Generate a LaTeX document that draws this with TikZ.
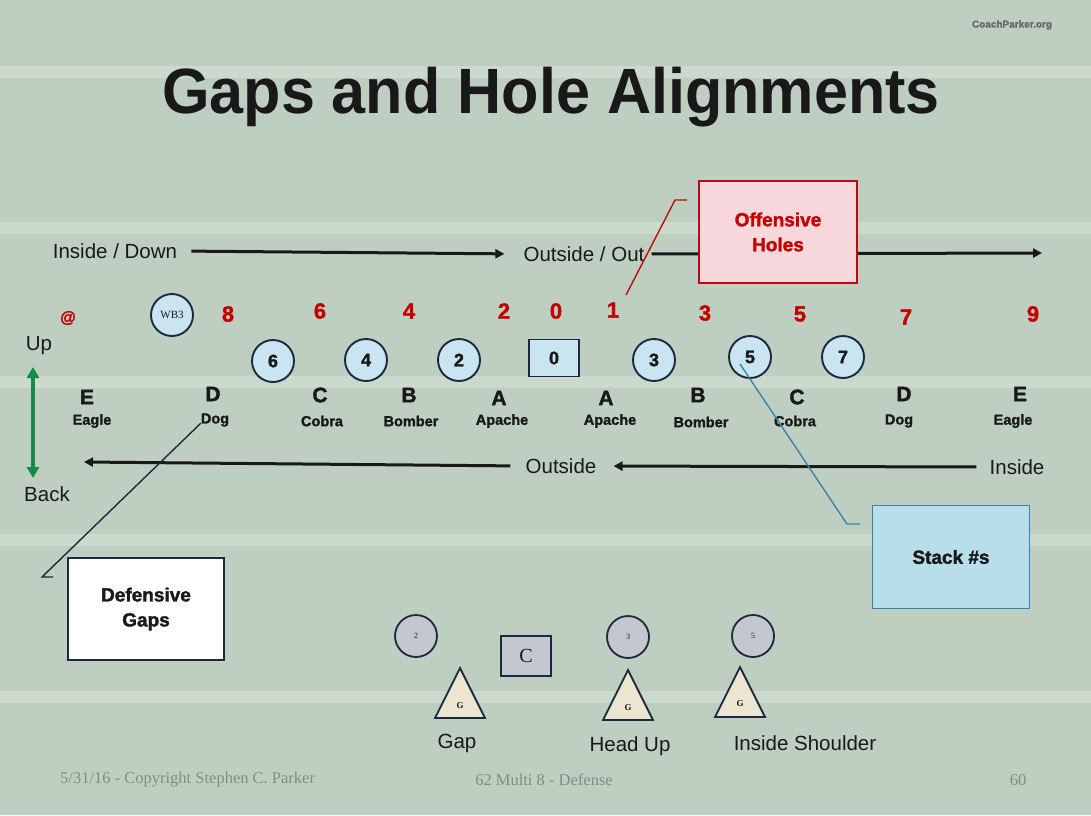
\documentclass[tikz,border=0pt]{standalone}
\usepackage{fontspec}
\setmainfont{Liberation Sans}
\newfontfamily\tnr{Liberation Serif}
\newfontfamily\heavy[FakeBold=1.6]{Liberation Sans Bold}
\usetikzlibrary{arrows.meta,shapes.geometric}
\definecolor{bgc}{RGB}{190,207,193}
\definecolor{bandc}{RGB}{204,218,206}
\definecolor{redt}{RGB}{196,0,0}
\definecolor{circf}{RGB}{200,229,241}
\definecolor{navy}{RGB}{28,40,62}
\definecolor{pinkf}{RGB}{248,216,220}
\definecolor{boxred}{RGB}{190,10,10}
\definecolor{stackf}{RGB}{183,222,233}
\definecolor{stackb}{RGB}{58,132,170}
\definecolor{grayf}{RGB}{196,198,208}
\definecolor{beige}{RGB}{236,230,208}
\definecolor{grn}{RGB}{20,140,72}
\definecolor{foot}{RGB}{128,142,130}
\definecolor{ink}{RGB}{25,25,25}
\tikzset{
  x=1pt,y=-1pt,
  arr/.style={draw=ink,line width=3pt,-{Triangle[length=9pt,width=9pt]}},
  reg/.style={font=\fontsize{20.5}{22}\selectfont,text=ink,inner sep=1pt},
  rednum/.style={font=\heavy\fontsize{22}{24}\selectfont,text=redt,inner sep=0pt},
  letter/.style={font=\heavy\fontsize{21}{23}\selectfont,text=ink,inner sep=0pt},
  gname/.style={font=\heavy\fontsize{14.5}{16}\selectfont,text=ink,inner sep=0pt},
  player/.style={circle,draw=navy,line width=1.9pt,fill=circf,minimum size=42pt,inner sep=0pt,font=\heavy\fontsize{18}{20}\selectfont,text=ink},
  gplayer/.style={circle,draw=navy,line width=1.8pt,fill=grayf,minimum size=42pt,inner sep=0pt,font=\tnr\fontsize{8}{9}\selectfont,text=ink},
  trishape/.style={draw=navy,line width=1.8pt,fill=beige,line join=miter},
  label/.style={align=center,font=\heavy\fontsize{19}{25}\selectfont,inner sep=0pt},
  footer/.style={font=\tnr\fontsize{16.5}{18}\selectfont,text=foot,inner sep=0pt},
  gtxt/.style={font=\tnr\fontsize{9}{10}\selectfont\bfseries,inner sep=0pt,text=ink}
}
\begin{document}
\begin{tikzpicture}
\useasboundingbox (0,0) rectangle (1091,815);
\fill[bgc] (0,0) rectangle (1091,815);
\foreach \yy in {72,228,382,540,697}{
  \fill[bandc] (0,\yy-6) rectangle (1091,\yy+6);
}
% logo and title
\node[font=\heavy\fontsize{10}{12}\selectfont,text=black!58,inner sep=0pt] (logo) at (1012,25) {CoachParker.org};
\node[font=\fontsize{64}{66}\selectfont\bfseries,text=ink,inner sep=0pt,xscale=0.955] (title) at (551,97) {Gaps and Hole Alignments};

% top direction line
\node[reg] (insdown) at (115,251) {Inside / Down};
\node[reg] (outout) at (584,254) {Outside / Out};
\coordinate (topend) at (1042,253);
\draw[arr,shorten <=13pt,shorten >=18pt] (insdown.east) -- (outout.west);
\draw[arr,shorten <=6pt] (outout.east) -- (topend);

% offensive holes callout
\node[draw=boxred,line width=1.8pt,fill=pinkf,minimum width=158pt,minimum height=102pt,inner sep=0pt] (offbox) at (778,232) {};
\node[label,text=redt] (offtxt) at (offbox) {Offensive\\Holes};
\coordinate (offa) at (626,295);
\coordinate (offb) at (675,200);
\coordinate (offc) at (687,200);
\draw[boxred,line width=1.4pt] (offa) -- (offb) -- (offc);

% red hole numbers
\node[rednum,font=\heavy\fontsize{16}{18}\selectfont] (hat) at (68,318) {@};
\node[rednum] (h8) at (228,314) {8};
\node[rednum] (h6) at (320,311) {6};
\node[rednum] (h4) at (409,311) {4};
\node[rednum] (h2) at (504,311) {2};
\node[rednum] (h0) at (556,311) {0};
\node[rednum] (h1) at (613,310) {1};
\node[rednum] (h3) at (705,313) {3};
\node[rednum] (h5) at (800,314) {5};
\node[rednum] (h7) at (906,317) {7};
\node[rednum] (h9) at (1033,314) {9};

% offensive players
\node[player,font=\tnr\fontsize{11}{12}\selectfont] (wb) at (172,315) {WB3};
\node[player] (p6) at (273,361) {6};
\node[player] (p4) at (366,360) {4};
\node[player] (p2) at (459,360) {2};
\node[draw=navy,line width=1.9pt,fill=circf,minimum width=50pt,minimum height=37pt,inner sep=0pt,font=\heavy\fontsize{18}{20}\selectfont,text=ink] (p0) at (554,358) {0};
\node[player] (p3) at (654,360) {3};
\node[player] (p5) at (750,357) {5};
\node[player] (p7) at (843,357) {7};

% gap letters and names
\foreach \nm/\xx/\yy/\tx in {l1/87/397/E,l2/213/394/D,l3/320/395/C,l4/409/395/B,l5/499/398/A,l6/606/398/A,l7/698/395/B,l8/797/397/C,l9/904/394/D,l10/1020/394/E}{
  \node[letter] (\nm) at (\xx,\yy) {\tx};
}
\foreach \nm/\xx/\yy/\tx in {n1/92/421/Eagle,n2/215/420/Dog,n3/322/421/Cobra,n4/411/421/Bomber,n5/502/421/Apache,n6/610/421/Apache,n7/701/422/Bomber,n8/795/421/Cobra,n9/899/421/Dog,n10/1013/421/Eagle}{
  \node[gname] (\nm) at (\xx,\yy) {\tx};
}

% up / back
\node[reg] (up) at (39,346) {Up};
\node[reg] (back) at (47,494) {Back};
\coordinate (gtop) at (33,367);
\coordinate (gbot) at (33,478);
\draw[grn,line width=3.8pt,{Triangle[length=11pt,width=12pt]}-{Triangle[length=11pt,width=12pt]}] (gtop) -- (gbot);

% bottom direction line
\node[reg] (outside) at (561,466) {Outside};
\node[reg] (inside) at (1017,467) {Inside};
\coordinate (botend) at (84,462);
\draw[arr,shorten <=14pt] (outside.west) -- (botend);
\draw[arr,shorten <=12pt,shorten >=16pt] (inside.west) -- (outside.east);

% defensive gaps callout
\node[draw=navy,line width=1.8pt,fill=white,minimum width=156pt,minimum height=102pt,inner sep=0pt] (defbox) at (146,609) {};
\node[label,text=ink] (deftxt) at (defbox) {Defensive\\Gaps};
\coordinate (dega) at (201,423);
\coordinate (degb) at (42,577);
\coordinate (degc) at (53,577);
\draw[navy,line width=1.4pt] (dega) -- (degb) -- (degc);

% stack callout
\node[draw=stackb,line width=1.8pt,fill=stackf,minimum width=157pt,minimum height=103pt,inner sep=0pt] (stackbox) at (951,557) {};
\node[label,text=ink] (stacktxt) at (stackbox) {Stack \#s};
\coordinate (sta) at (740,364);
\coordinate (stb) at (847,524);
\coordinate (stc) at (860,524);
\draw[stackb,line width=1.4pt] (sta) -- (stb) -- (stc);

% alignment examples
\node[gplayer] (g2) at (416,636) {2};
\node[gplayer] (g3) at (628,637) {3};
\node[gplayer] (g5) at (753,636) {5};
\node[draw=navy,line width=1.8pt,fill=grayf,minimum width=50pt,minimum height=40pt,inner sep=0pt,font=\tnr\fontsize{20}{22}\selectfont,text=ink] (cbox) at (526,656) {C};
\draw[trishape] (460,668) -- (485,718) -- (435,718) -- cycle;
\draw[trishape] (628,670) -- (653,720) -- (603,720) -- cycle;
\draw[trishape] (740,667) -- (765,717) -- (715,717) -- cycle;
\node[gtxt] (t1g) at (460,706) {G};
\node[gtxt] (t2g) at (628,708) {G};
\node[gtxt] (t3g) at (740,704) {G};
\node[reg] (gap) at (457,743) {Gap};
\node[reg] (headup) at (630,746) {Head Up};
\node[reg] (insh) at (805,743) {Inside Shoulder};

% footer
\node[footer,anchor=west] (f1) at (60,780) {5/31/16 - Copyright Stephen C. Parker};
\node[footer] (f2) at (544,780) {62 Multi 8 - Defense};
\node[footer] (f3) at (1018,780) {60};
\end{tikzpicture}
\end{document}
